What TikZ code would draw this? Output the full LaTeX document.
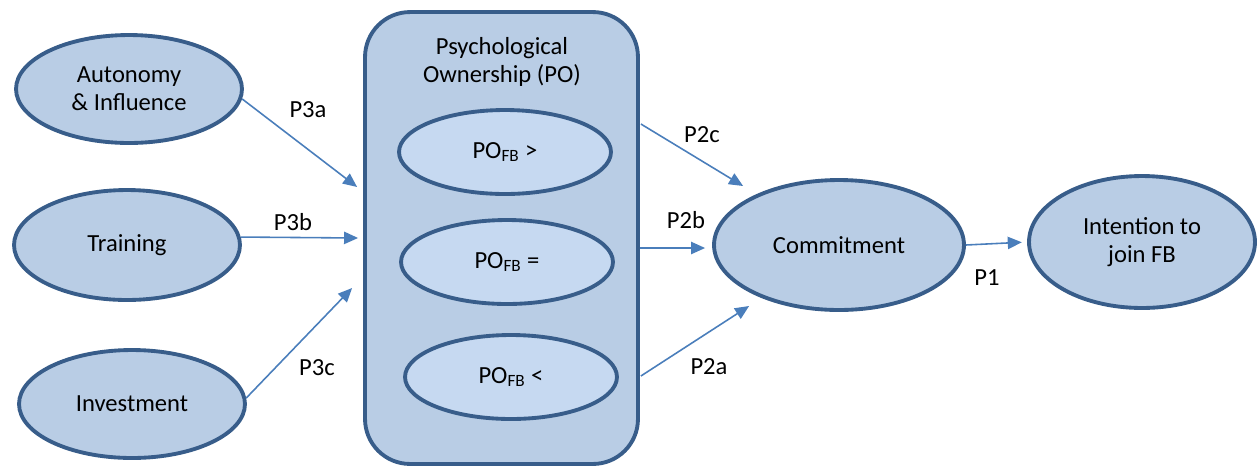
\documentclass[tikz,border=0pt]{standalone}
\usepackage{fontspec}
\setmainfont{Carlito}
\usepackage{tikz}
\usetikzlibrary{arrows.meta,shapes.geometric}
\definecolor{ovalline}{RGB}{56,93,138}
\definecolor{ovalfill}{RGB}{185,205,229}
\definecolor{innerfill}{RGB}{198,217,241}
\definecolor{arrowblue}{RGB}{74,126,187}

\begin{document}
\begin{tikzpicture}[x=0.02cm,y=-0.02cm,
        every node/.style={font=\fontsize{14}{16}\selectfont,align=center},
        oval/.style={ellipse,draw=ovalline,fill=ovalfill,line width=2.2pt,inner sep=0pt},
        inneroval/.style={oval,fill=innerfill,minimum width=4.24cm,minimum height=1.68cm},
        conn/.style={draw=arrowblue,line width=0.9pt,-{Triangle[length=8pt,width=7pt]}}]
            \useasboundingbox (0,0) rectangle (1258,468);
            % left hand factors
            \node[oval,minimum width=4.52cm,minimum height=2.16cm] (auto) at (129,89) {Autonomy\\\& Influence};
            \node[oval,minimum width=4.52cm,minimum height=2.2cm] (train) at (127,245) {Training};
            \node[oval,minimum width=4.52cm,minimum height=2.16cm] (invest) at (132,404) {Investment};
            % ownership box
            \node[draw=ovalline,fill=ovalfill,line width=2.2pt,rounded corners=0.9cm,
                  minimum width=5.46cm,minimum height=9.04cm] (po) at (501.5,238) {};
            \node (potitle) at (502,62) {Psychological\\Ownership (PO)};
            \node[inneroval] (pogt) at (505,152) {PO\textsubscript{FB} >};
            \node[inneroval] (poeq) at (507,262) {PO\textsubscript{FB} =};
            \node[inneroval] (polt) at (511,377) {PO\textsubscript{FB} <};
            % outcomes
            \node[oval,minimum width=5.0cm,minimum height=2.6cm] (commit) at (839,245) {Commitment};
            \node[oval,minimum width=4.52cm,minimum height=2.64cm] (intent) at (1142,242) {Intention to\\join FB};
            % paths
            \draw[conn] (auto.-5) -- ([shift={(-6,-51)}]po.west);
            \draw[conn] (train.4) -- ([shift={(-5,0)}]po.west);
            \draw[conn] (invest.3) -- ([shift={(-11,50)}]po.west);
            \draw[conn] ([shift={(1,-114)}]po.east) -- ([shift={(31,-59)}]commit.west);
            \draw[conn] ([shift={(0,10)}]po.east) -- ([shift={(-7,3)}]commit.west);
            \draw[conn] ([shift={(1,138)}]po.east) -- ([shift={(37,61)}]commit.west);
            \draw[conn,shorten >=3pt] (commit.east) -- (intent.west);
            % labels
            \node (l3a) at (308,110) {P3a};
            \node (l3b) at (293,222) {P3b};
            \node (l3c) at (317,368) {P3c};
            \node (l2c) at (702,135) {P2c};
            \node (l2b) at (686,220) {P2b};
            \node (l2a) at (709,367) {P2a};
            \node (l1) at (987,278) {P1};
        \end{tikzpicture}
\end{document}
